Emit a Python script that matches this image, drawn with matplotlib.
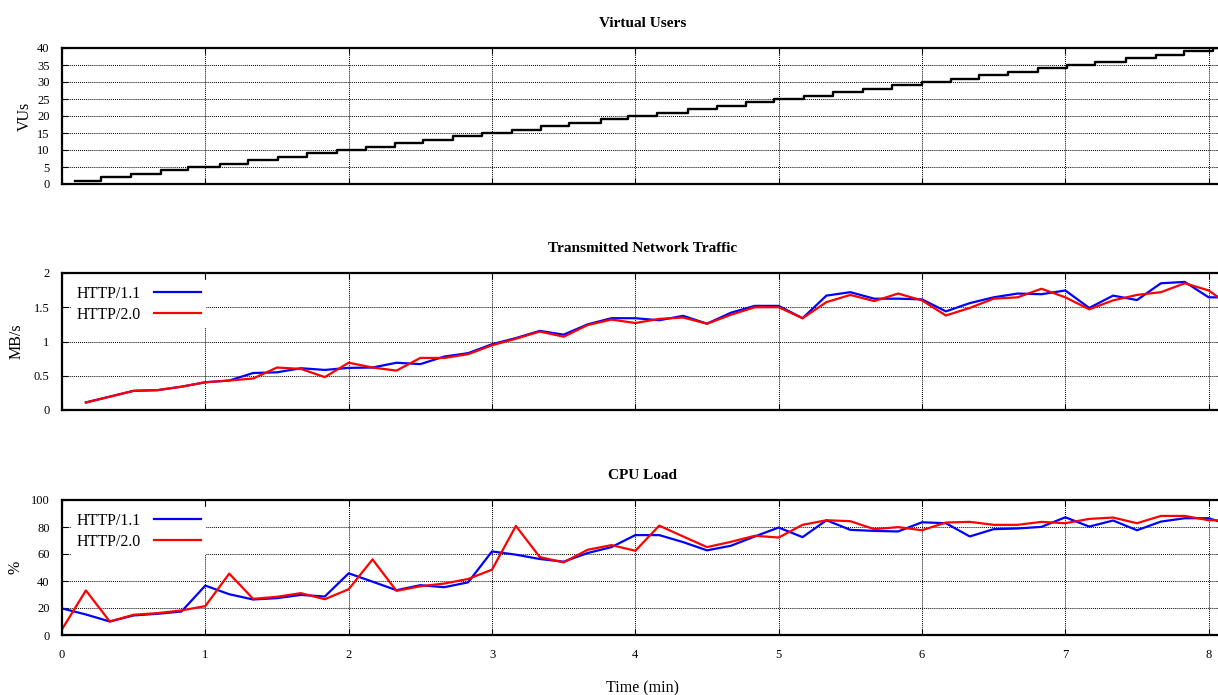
import numpy as np
import matplotlib
matplotlib.use("Agg")
import matplotlib.pyplot as plt

plt.rcParams['font.family'] = ['Liberation Serif', 'DejaVu Serif']

# virtual users: start time (min) of each step and the VU count
vu_start = [0.09, 0.27, 0.48, 0.69, 0.88, 1.10, 1.30, 1.51, 1.71, 1.92,
            2.12, 2.32, 2.52, 2.73, 2.93, 3.14, 3.34, 3.54, 3.76, 3.95,
            4.15, 4.37, 4.57, 4.77, 4.97, 5.18, 5.38, 5.59, 5.79, 6.00,
            6.20, 6.40, 6.60, 6.81, 7.01, 7.21, 7.42, 7.63, 7.83, 8.03]
vu_count = [1, 2, 3, 4, 5, 6, 7, 8, 9, 10,
            11, 12, 13, 14, 15, 16, 17, 18, 19, 20,
            21, 22, 23, 24, 25, 26, 27, 28, 29, 30,
            31, 32, 33, 34, 35, 36, 37, 38, 39, 40]
vu_end = 8.1

# sample times in seconds (every 10 s)
secs = [0, 10, 20, 30, 40, 50, 60, 70, 80, 90, 100, 110, 120, 130, 140, 150,
        160, 170, 180, 190, 200, 210, 220, 230, 240, 250, 260, 270, 280, 290,
        300, 310, 320, 330, 340, 350, 360, 370, 380, 390, 400, 410, 420, 430,
        440, 450, 460, 470, 480, 490]

# transmitted traffic MB/s (starts at 10 s)
net_h11 = [0.11, 0.195, 0.28, 0.29, 0.34, 0.405, 0.43, 0.54, 0.55, 0.61,
           0.585, 0.615, 0.62, 0.69, 0.67, 0.78, 0.83, 0.96, 1.05, 1.155,
           1.10, 1.25, 1.34, 1.34, 1.31, 1.375, 1.26, 1.42, 1.52, 1.52,
           1.34, 1.67, 1.72, 1.625, 1.625, 1.615, 1.44, 1.56, 1.645, 1.70,
           1.69, 1.745, 1.49, 1.67, 1.605, 1.85, 1.87, 1.645, 1.645]
net_h20 = [0.11, 0.195, 0.28, 0.29, 0.34, 0.405, 0.43, 0.46, 0.62, 0.60,
           0.48, 0.69, 0.62, 0.575, 0.76, 0.76, 0.815, 0.945, 1.04, 1.145,
           1.07, 1.24, 1.32, 1.27, 1.33, 1.35, 1.26, 1.39, 1.50, 1.50,
           1.34, 1.575, 1.68, 1.59, 1.70, 1.60, 1.38, 1.49, 1.625, 1.645,
           1.77, 1.645, 1.47, 1.60, 1.68, 1.72, 1.85, 1.745, 1.50]

# cpu load % (starts at 0 s)
cpu_h11 = [19.7, 15.2, 10, 14.5, 15.7, 17.4, 36.6, 30.2, 26.3, 27.3,
           29.7, 28.5, 45.7, 39.5, 33.2, 36.9, 35.4, 39, 61.9, 59.5,
           56.3, 54.3, 60.7, 65.1, 74, 74, 68.8, 62.7, 66.1, 73,
           79.6, 72.5, 85, 77.9, 77.1, 76.7, 83.5, 82.8, 73, 78.4,
           78.9, 80.1, 87.2, 80.3, 84.8, 77.6, 84, 86.5, 86.5, 81]
cpu_h20 = [4.2, 33, 10, 15, 16.2, 18.2, 21.4, 45.5, 26.8, 28.3,
           31, 26.5, 33.9, 56, 32.7, 36.1, 38.1, 41.5, 48.4, 80.8,
           57.7, 53.8, 63.1, 66.6, 62.4, 81, 73, 65.1, 69, 73.5,
           72.2, 81.6, 85, 84.3, 78.4, 79.9, 77.6, 83.3, 83.8, 81.6,
           81.6, 83.8, 82.8, 86, 87, 82.8, 88.2, 88.2, 85, 85]

t = np.array(secs) / 60.0

W, H = 1218, 695
fig = plt.figure(figsize=(W / 100, H / 100), dpi=100)

def make_ax(top_px, bot_px):
    ax = fig.add_axes([62 / W, 1 - bot_px / H, 1161 / W, (bot_px - top_px) / H])
    ax.set_xlim(0, 8.1)
    ax.set_xticks(range(0, 9))
    ax.grid(True, color='black', linestyle=(0, (1, 1)), linewidth=0.7)
    ax.set_axisbelow(True)
    for s in ax.spines.values():
        s.set_linewidth(1.6)
    ax.tick_params(direction='in', length=4, width=0.8, top=True, right=True,
                   labelsize=9, pad=9)
    ax.tick_params(axis='x', pad=10)
    return ax

def add_legend(ax):
    leg = ax.legend(loc='upper left', bbox_to_anchor=(9 / 1161, 1 - 7 / 136),
                    borderaxespad=0, borderpad=0.35, markerfirst=False,
                    handlelength=2.9, handletextpad=0.85, labelspacing=0.32,
                    fontsize=11.5, frameon=True, fancybox=False)
    leg.get_frame().set_facecolor('white')
    leg.get_frame().set_edgecolor('none')
    leg.get_frame().set_alpha(1)

# Virtual Users
ax1 = make_ax(48, 184)
ax1.plot(vu_start + [vu_end], vu_count + [vu_count[-1]], drawstyle='steps-post',
         color='black', linewidth=1.7)
ax1.set_ylim(0, 40)
ax1.set_yticks(range(0, 41, 5))
ax1.set_xticklabels([])
ax1.set_ylabel('VUs', fontsize=11.5, va='center')
ax1.yaxis.set_label_coords((25 - 62) / 1161, 0.5)
ax1.set_title('Virtual Users', fontsize=11, fontweight='bold', pad=15)

# Transmitted Network Traffic
ax2 = make_ax(273, 410)
ax2.plot(t[1:], net_h11, color='#0000ff', linewidth=1.6, label='HTTP/1.1')
ax2.plot(t[1:], net_h20, color='#ff0000', linewidth=1.6, label='HTTP/2.0')
ax2.set_ylim(0, 2)
ax2.set_yticks([0, 0.5, 1, 1.5, 2])
ax2.set_yticklabels(['0', '0.5', '1', '1.5', '2'])
ax2.set_xticklabels([])
ax2.set_ylabel('MB/s', fontsize=11.5, va='center')
ax2.yaxis.set_label_coords((17 - 62) / 1161, 0.5)
ax2.set_title('Transmitted Network Traffic', fontsize=11, fontweight='bold', pad=15)
add_legend(ax2)

# CPU Load
ax3 = make_ax(500, 635)
ax3.plot(t, cpu_h11, color='#0000ff', linewidth=1.6, label='HTTP/1.1')
ax3.plot(t, cpu_h20, color='#ff0000', linewidth=1.6, label='HTTP/2.0')
ax3.set_ylim(0, 100)
ax3.set_yticks(range(0, 101, 20))
ax3.set_ylabel('%', fontsize=11.5, va='center')
ax3.yaxis.set_label_coords((16 - 62) / 1161, 0.5)
ax3.set_xlabel('Time (min)', fontsize=11.5, labelpad=14)
ax3.set_title('CPU Load', fontsize=11, fontweight='bold', pad=15)
add_legend(ax3)

fig.savefig('out.png', dpi=100)
